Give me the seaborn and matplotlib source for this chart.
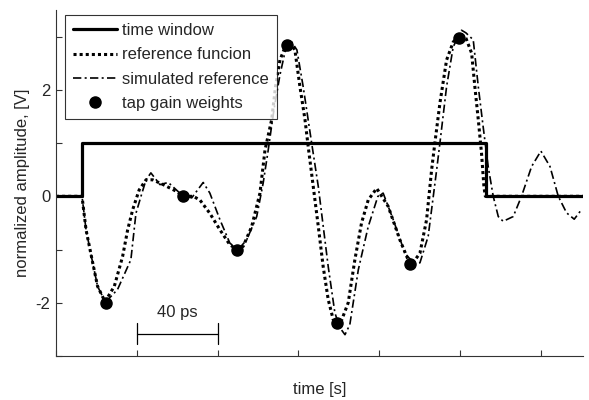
import matplotlib
matplotlib.use('Agg')
import matplotlib.pyplot as plt
import seaborn as sns
import numpy as np

# Values (time in ps, amplitude in V).
window_t = [0, 12.9, 12.9, 212.7, 212.7, 261]
window_v = [0, 0, 1, 1, 0, 0]

ref_t = [0, 12.9, 14.9, 18.2, 20.6, 24.3, 28.9, 33.0, 35.5, 38.0, 41.2, 44.6, 47.9,
         53.1, 59.8, 63.0, 68.0, 71.3, 76.2, 81.2, 86.1, 89.6, 92.7, 96.9, 101.0,
         103.5, 106.8, 108.7, 110.9, 114.0, 115.8, 118.3, 120.8, 123.3, 124.9, 127.4,
         129.9, 132.3, 134.8, 137.3, 139.5, 140.6, 144.7, 148.0, 151.3, 154.6, 158.8,
         164.5, 170.3, 175.2, 176.1, 180.2, 183.5, 186.0, 187.6, 190.1, 193.4, 196.7,
         199.2, 200.5, 203.0, 205.8, 207.4, 209.1, 210.7, 211.9, 212.6, 261]
ref_v = [0, 0, -0.63, -1.25, -1.69, -1.98, -1.69, -1.13, -0.63, -0.25, 0.12, 0.31, 0.31,
         0.22, 0.09, 0.0, 0.0, -0.07, -0.32, -0.63, -0.91, -1.0, -0.94, -0.57, 0.06,
         0.87, 1.44, 2.06, 2.56, 2.86, 2.90, 2.75, 2.06, 1.44, 0.93, 0.18,
         -0.57, -1.32, -1.94, -2.32, -2.39, -2.41, -2.0, -1.19, -0.50, -0.07, 0.15,
         -0.19, -0.82, -1.27, -1.28, -1.07, -0.44, 0.50, 1.0, 1.75, 2.56, 2.90,
         3.0, 3.05, 2.97, 2.69, 2.06, 1.44, 0.81, 0.18, 0.0, 0.0]

sim_t = [0, 12.9, 14.9, 18.2, 20.6, 24.5, 30.5, 37.1, 39.6, 42.1, 44.6, 47.0, 51.5,
         55.6, 62.2, 67.2, 72.9, 76.2, 81.2, 86.1, 90.2, 94.4, 99.4, 102.6, 105.1,
         107.9, 110.9, 113.4, 116.7, 119.3, 122.4, 126.6, 129.9, 134.8, 138.1, 140.6,
         143.1, 145.5, 149.7, 154.6, 159.4, 162.0, 167.0, 172.8, 177.7, 180.2, 184.3,
         188.5, 190.1, 193.4, 196.7, 200.8, 203.0, 206.6, 209.1, 211.5, 214.0, 216.5,
         219.0, 221.4, 226.4, 230.5, 235.5, 240.1, 244.6, 248.7, 252.8, 256.6, 260.2]
sim_v = [0, 0, -0.63, -1.25, -1.69, -1.99, -1.75, -1.19, -0.32, 0.0, 0.31, 0.44, 0.22,
         0.26, 0.03, -0.03, 0.26, 0.06, -0.44, -0.88, -1.0, -0.82, -0.38, 0.25, 0.87,
         1.62, 2.28, 2.71, 2.90, 2.75, 2.06, 1.0, 0.18, -1.32, -2.19, -2.47,
         -2.6, -2.41, -1.38, -0.57, 0.0, 0.06, -0.44, -1.07, -1.28, -1.25, -0.75,
         0.5, 1.0, 2.06, 2.81, 3.12, 3.07, 2.94, 2.06, 1.31, 0.56, 0.0,
         -0.38, -0.47, -0.38, 0.0, 0.56, 0.85, 0.56, 0.0, -0.31, -0.43, -0.25]

tap_t = [24.6, 63.0, 89.6, 114.2, 139.3, 175.2, 199.5]
tap_v = [-2.0, 0.0, -1.0, 2.84, -2.38, -1.27, 2.98]

# scale bar annotation
bar_start, bar_len, bar_y = 40, 40, -2.58

FONTSIZE = 12

sns.set_theme(style='white')
plt.rcParams['font.family'] = ['Liberation Sans', 'DejaVu Sans']

fig = plt.figure(figsize=(5.89, 4.0), dpi=100)
ax = fig.add_axes([0.095, 0.11, 0.895, 0.865])

sns.lineplot(x=window_t, y=window_v, ax=ax, estimator=None, sort=False,
             color='black', linewidth=2.3, label='time window')
sns.lineplot(x=ref_t, y=ref_v, ax=ax, estimator=None, sort=False,
             color='black', linewidth=2.2, linestyle=(0, (1, 1)), label='reference funcion')
sns.lineplot(x=sim_t, y=sim_v, ax=ax, estimator=None, sort=False,
             color='black', linewidth=1.2, linestyle=(0, (5, 2, 1.2, 2)),
             label='simulated reference')
ax.plot(tap_t, tap_v, 'o', color='black', markersize=8, label='tap gain weights')

# scale bar "40 ps"
ax.plot([bar_start, bar_start + bar_len], [bar_y, bar_y], color='black', lw=0.9)
for xb in (bar_start, bar_start + bar_len):
    ax.plot([xb, xb], [bar_y - 0.2, bar_y + 0.2], color='black', lw=0.9)
ax.text(bar_start + bar_len / 2, -2.19, '40 ps', ha='center', va='center',
        fontsize=FONTSIZE)

ax.set_xlim(0, 261)
ax.set_ylim(-3, 3.5)
ax.set_xticks(np.arange(0, 261, 40))
ax.set_xticklabels([])
ax.set_yticks(np.arange(-3, 4, 1))
ax.set_yticklabels(['' if v % 2 else str(v) for v in range(-3, 4)])
ax.tick_params(direction='in', length=4, width=0.8, labelsize=FONTSIZE,
               left=True, bottom=True, color='#333333', pad=4)
sns.despine(ax=ax)
for side in ('left', 'bottom'):
    ax.spines[side].set_color('#333333')
    ax.spines[side].set_linewidth(0.8)

ax.set_xlabel('time [s]', fontsize=FONTSIZE, labelpad=15)
ax.set_ylabel('normalized amplitude, [V]', fontsize=FONTSIZE, labelpad=4)

leg = ax.legend(loc='upper left', bbox_to_anchor=(0.017, 0.986), borderaxespad=0,
                fontsize=FONTSIZE, frameon=True, fancybox=False, handlelength=2.6,
                handletextpad=0.3, labelspacing=0.55, borderpad=0.5)
leg.get_frame().set_edgecolor('black')
leg.get_frame().set_linewidth(0.8)

fig.savefig('out.png', dpi=100)
